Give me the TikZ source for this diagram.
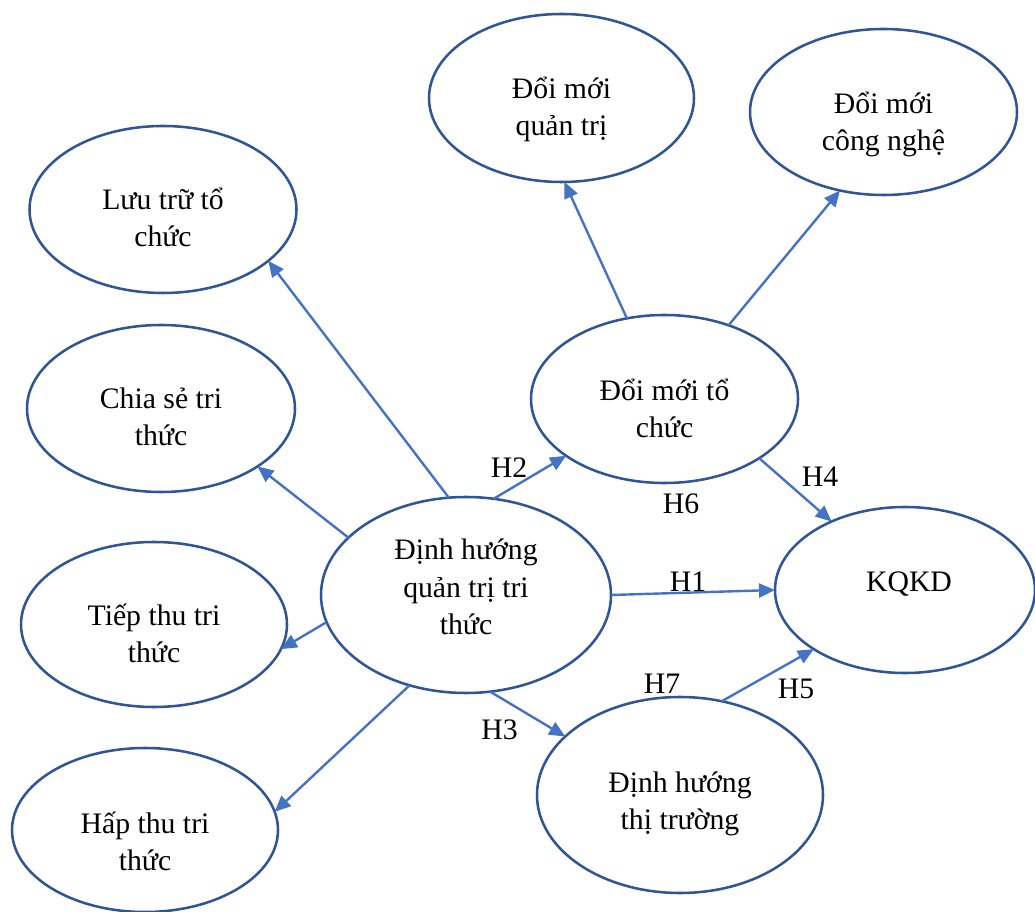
\documentclass[tikz,border=0pt]{standalone}
\usepackage{fontspec}
\setmainfont{Liberation Serif}
\usetikzlibrary{shapes.geometric,arrows.meta}
\definecolor{ovalblue}{HTML}{2F5597}
\definecolor{linkblue}{HTML}{4472C4}
\begin{document}
\begin{tikzpicture}[x=0.75pt,y=-0.75pt,
  % oval: half-width and half-height in px
  oval/.style 2 args={ellipse, draw=ovalblue, line width=1.9pt, fill=white,
    inner sep=0pt, outer sep=0pt, minimum width=#1*1.5pt, minimum height=#2*1.5pt},
  txt/.style={font=\fontsize{22.3}{28}\selectfont, align=center, inner sep=0pt,
    execute at begin node=\strut, execute at end node=\strut},
  hyp/.style={font=\fontsize{22.3}{28}\selectfont, inner sep=0pt, anchor=base},
  link/.style={draw=linkblue, line width=1.8pt, -{Triangle[length=12pt,width=10.5pt]}}]
\useasboundingbox (0,0) rectangle (1035,912);

% constructs
\node[oval={133.5}{83.5}] (luutru)  at (163,209.5) {};
\node[oval={134}{83.5}]   (chiase)  at (161,408.5) {};
\node[oval={133}{82.5}]   (tiepthu) at (154,624.5) {};
\node[oval={133}{82}]     (hapthu)  at (145,830) {};
\node[oval={145}{98}]     (dhqt)    at (466,595) {};
\node[oval={133.5}{84}]   (dmtc)    at (664.5,399) {};
\node[oval={132.5}{84}]   (dmqt)    at (561.5,98) {};
\node[oval={133.5}{83}]   (dmcn)    at (883.5,112) {};
\node[oval={130}{83}]     (kqkd)    at (905,590) {};
\node[oval={143}{98}]     (dhtt)    at (680,795) {};

% construct names
\node[txt] (luutru-t)  at (163,223) {Lưu trữ tổ\\chức};
\node[txt] (chiase-t)  at (161,422) {Chia sẻ tri\\thức};
\node[txt] (tiepthu-t) at (154,639) {Tiếp thu tri\\thức};
\node[txt] (hapthu-t)  at (145,847) {Hấp thu tri\\thức};
\node[txt] (dhqt-t)    at (466,592.5) {Định hướng\\quản trị tri\\thức};
\node[txt] (dmtc-t)    at (664.5,413.5) {Đổi mới tổ\\chức};
\node[txt] (dmqt-t)    at (561.5,112) {Đổi mới\\quản trị};
\node[txt] (dmcn-t)    at (883.5,127) {Đổi mới\\công nghệ};
\node[txt] (kqkd-t)    at (909,584) {KQKD};
\node[txt] (dhtt-t)    at (680,806) {Định hướng\\thị trường};

% paths
\draw[link] (dhqt.100.5)  -- (luutru.-26.3);
\draw[link] (dhqt.154.8)  -- (chiase.-31.5);
\draw[link] (dhqt.191.4)  -- (tiepthu.-11.4);
\draw[link] (dhqt.-122.8) -- (hapthu.8.6);
\draw[link] (dhqt.74.7)   -- (dmtc.-150.6);
\draw[link] (dmtc.115.4)  -- (dmqt.-88.6);
\draw[link] (dmtc.49.8)   -- (dmcn.-119.3);
\draw[link] (dmtc.-32.3)  -- (kqkd.137);
\draw[link] (dhqt.0.8)    -- (kqkd.180);
\draw[link] (dhqt.-76.7)  -- (dhtt.153.8);
\draw[link] (dhtt.66.9)   -- (kqkd.-147.8);

% hypothesis labels
\node[hyp] (h1) at (688,591) {H1};
\node[hyp] (h2) at (509,478) {H2};
\node[hyp] (h3) at (499.5,739) {H3};
\node[hyp] (h4) at (820,487) {H4};
\node[hyp] (h5) at (796,698) {H5};
\node[hyp] (h6) at (681,513) {H6};
\node[hyp] (h7) at (662,693) {H7};
\end{tikzpicture}
\end{document}
